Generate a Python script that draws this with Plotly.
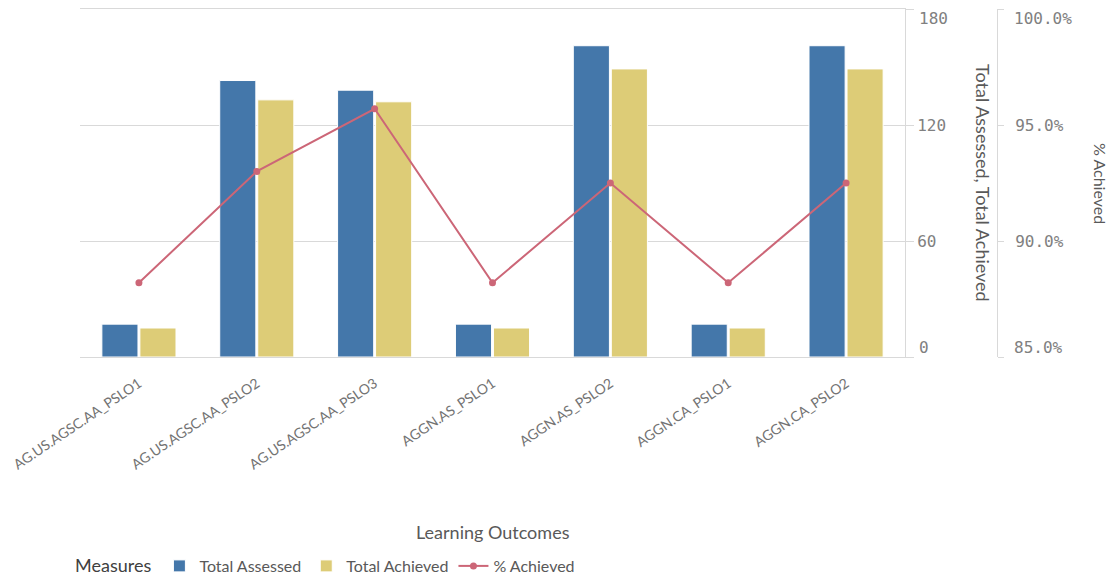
import plotly.graph_objects as go

categories = ["AG.US.AGSC.AA_PSLO1", "AG.US.AGSC.AA_PSLO2", "AG.US.AGSC.AA_PSLO3",
              "AGGN.AS_PSLO1", "AGGN.AS_PSLO2", "AGGN.CA_PSLO1", "AGGN.CA_PSLO2"]
total_assessed = [17, 143, 138, 17, 161, 17, 161]
total_achieved = [15, 133, 132, 15, 149, 15, 149]
pct_achieved = [88.2, 93.0, 95.7, 88.2, 92.5, 88.2, 92.5]
count_ticks = [0, 60, 120, 180]
pct_ticks = [85, 90, 95, 100]

BLUE = "#4477aa"
YELLOW = "#ddcc77"
RED = "#cc6677"
GRID = "#d9d9d9"
TICKFONT = dict(family="DejaVu Sans Mono", size=16, color="#808080")
SANS = "Lato"

fig = go.Figure()
fig.add_trace(go.Bar(x=categories, y=total_assessed, name="Total Assessed",
                     marker=dict(color=BLUE, line=dict(color="white", width=1)), yaxis="y"))
fig.add_trace(go.Bar(x=categories, y=total_achieved, name="Total Achieved",
                     marker=dict(color=YELLOW, line=dict(color="white", width=1)), yaxis="y"))
fig.add_trace(go.Scatter(x=categories, y=pct_achieved, name="% Achieved", mode="lines+markers",
                         line=dict(color=RED, width=2), marker=dict(color=RED, size=7), yaxis="y2"))

OFF = 8  # page body margin
W, H = 1116 - OFF, 582 - OFF
PL, PR, PT, PB = 80, 905, 9, 357      # plot area in screen px
PAPER_R = 1030
L = PL - OFF
T = PT - OFF
B = H - (PB - OFF)
R = W - (PAPER_R - OFF)
pw = PAPER_R - PL
ph = PB - PT


def px(xs):
    return (xs - PL) / pw


def py(ys):
    return (PB - ys) / ph


def inner_labels(vals, fmt):
    # end labels are drawn as annotations nudged inward (as in the reference)
    return [("" if v in (vals[0], vals[-1]) else fmt(v)) for v in vals]


fig.update_layout(
    width=W, height=H,
    margin=dict(l=L, r=R, t=T, b=B, autoexpand=False),
    paper_bgcolor="white", plot_bgcolor="white",
    barmode="group", bargap=0.355, bargroupgap=0.05,
    showlegend=True,
    xaxis=dict(domain=[0, px(PR)], type="category",
               tickangle=-34, tickfont=dict(family=SANS, size=14, color="#737373"),
               showline=True, mirror=True, linecolor=GRID, linewidth=1, ticks="",
               ticklabelstandoff=12, showgrid=False),
    yaxis=dict(side="right", range=[0, 180], tickvals=count_ticks,
               ticktext=inner_labels(count_ticks, lambda v: str(v)),
               tickfont=TICKFONT, showgrid=True, gridcolor=GRID, gridwidth=1,
               showline=True, linecolor=GRID, linewidth=1,
               ticks="outside", ticklen=8, tickcolor=GRID, zeroline=False,
               anchor="x"),
    yaxis2=dict(overlaying="y", side="right", anchor="free", position=px(997),
                range=[85, 100], tickvals=pct_ticks,
                ticktext=inner_labels(pct_ticks, lambda v: f"{v:.1f}%"),
                tickfont=TICKFONT, showgrid=False,
                showline=True, linecolor=GRID, linewidth=1,
                ticks="outside", ticklen=6, tickcolor=GRID, zeroline=False,
                ticklabelstandoff=8),
    legend=dict(orientation="h", x=px(73), xanchor="left", y=py(566), yanchor="middle",
                title=dict(text="Measures", font=dict(family=SANS, size=18, color="#404040"), side="left"),
                font=dict(family=SANS, size=16, color="#595959"),
                traceorder="normal", itemwidth=30),
)

# end tick labels (top / bottom) nudged inside the axis span
for v, shift in ((count_ticks[-1], -9), (count_ticks[0], 10)):
    fig.add_annotation(text=str(v), xref="paper", yref="y", x=px(917), y=v,
                       xanchor="left", yanchor="middle", yshift=shift, showarrow=False,
                       font=TICKFONT)
for v, shift in ((pct_ticks[-1], -9), (pct_ticks[0], 10)):
    fig.add_annotation(text=f"{v:.1f}%", xref="paper", yref="y2", x=px(1012), y=v,
                       xanchor="left", yanchor="middle", yshift=shift, showarrow=False,
                       font=TICKFONT)

fig.add_annotation(text="Learning Outcomes", xref="x domain", yref="paper",
                   x=0.5, y=py(532), xanchor="center", yanchor="middle",
                   showarrow=False, font=dict(family=SANS, size=18, color="#595959"))
fig.add_annotation(text="Total Assessed, Total Achieved", xref="paper", yref="paper",
                   x=px(983), y=py(183), xanchor="center", yanchor="middle",
                   textangle=90, showarrow=False, font=dict(family=SANS, size=18, color="#595959"))
fig.add_annotation(text="% Achieved", xref="paper", yref="paper",
                   x=px(1101), y=py(183), xanchor="center", yanchor="middle",
                   textangle=90, showarrow=False, font=dict(family=SANS, size=16, color="#595959"))

fig.write_html("out.html")
